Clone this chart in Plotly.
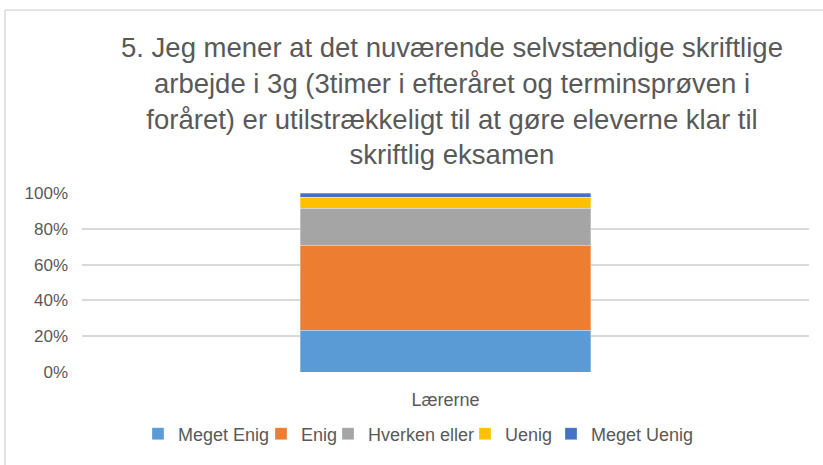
import plotly.graph_objects as go

categories = ["Lærerne"]
series_names = ["Meget Enig", "Enig", "Hverken eller", "Uenig", "Meget Uenig"]
series_values = [[0.232], [0.477], [0.207], [0.060], [0.024]]
series_colors = ["#5B9BD5", "#ED7D31", "#A5A5A5", "#FFC000", "#4472C4"]
y_tickvals = [0, 0.2, 0.4, 0.6, 0.8, 1.0]
y_ticktext = ["0%", "20%", "40%", "60%", "80%", "100%"]
title_text = ("5. Jeg mener at det nuværende selvstændige skriftlige<br>"
              "arbejde i 3g (3timer i efteråret og terminsprøven i<br>"
              "foråret) er utilstrækkeligt til at gøre eleverne klar til<br>"
              "skriftlig eksamen")

W, H = 823, 465
L, R, T, B = 82, 14, 193, 90
pw, ph = W - L - R, H - T - B

# legend item left edges (px) in the picture
legend_px = [138, 261, 328, 465, 551]
legend_keys = ["legend", "legend2", "legend3", "legend4", "legend5"]

FONT = "Liberation Sans, Arial, Helvetica, sans-serif"

fig = go.Figure()
for name, vals, col, lk in zip(series_names, series_values, series_colors, legend_keys):
    fig.add_trace(go.Bar(
        x=categories, y=vals, name=name, legend=lk,
        marker=dict(color=col, line=dict(color="rgba(255,255,255,0.6)", width=0.5)),
    ))

legends = {}
for lk, px in zip(legend_keys, legend_px):
    legends[lk] = dict(orientation="h", x=(px - L) / pw, xanchor="left",
                       y=(375 - 438) / ph, yanchor="middle",
                       bgcolor="rgba(0,0,0,0)", borderwidth=0,
                       itemwidth=30, font=dict(size=18, color="#595959", family=FONT),
                       itemclick=False, itemdoubleclick=False)

fig.update_layout(
    width=W, height=H,
    margin=dict(l=L, r=R, t=T, b=B, pad=0),
    barmode="stack", bargap=0.6,
    paper_bgcolor="white", plot_bgcolor="white",
    font=dict(family=FONT, color="#595959", size=17),
    title=dict(text=title_text, x=452 / W, xref="container", xanchor="center",
               y=1 - 57 / H, yref="container", yanchor="top",
               font=dict(size=27.5, color="#595959", family=FONT)),
    xaxis=dict(showgrid=False, showline=False, ticks="", ticklabelstandoff=15,
               tickfont=dict(size=18, color="#595959")),
    yaxis=dict(range=[0, 1], tickvals=y_tickvals, ticktext=y_ticktext,
               showgrid=True, gridcolor="#D9D9D9", gridwidth=1.5,
               zeroline=False, showline=False, ticks="", ticklabelstandoff=13,
               tickfont=dict(size=17, color="#595959")),
    showlegend=True,
    shapes=[dict(type="rect", xref="paper", yref="paper",
                 x0=(5 - L) / pw, x1=(W + 20 - L) / pw,
                 y0=(375 - (H + 20)) / ph, y1=(375 - 7) / ph,
                 line=dict(color="#C8C8C8", width=1), layer="below")],
    **legends,
)
fig.write_html("out.html", config={"displayModeBar": False})

with open("out.html", "r", encoding="utf-8") as f:
    html = f.read()
html = html.replace("<head>", "<head><style>html,body{margin:0;padding:0;overflow:hidden;}</style>", 1)
with open("out.html", "w", encoding="utf-8") as f:
    f.write(html)
